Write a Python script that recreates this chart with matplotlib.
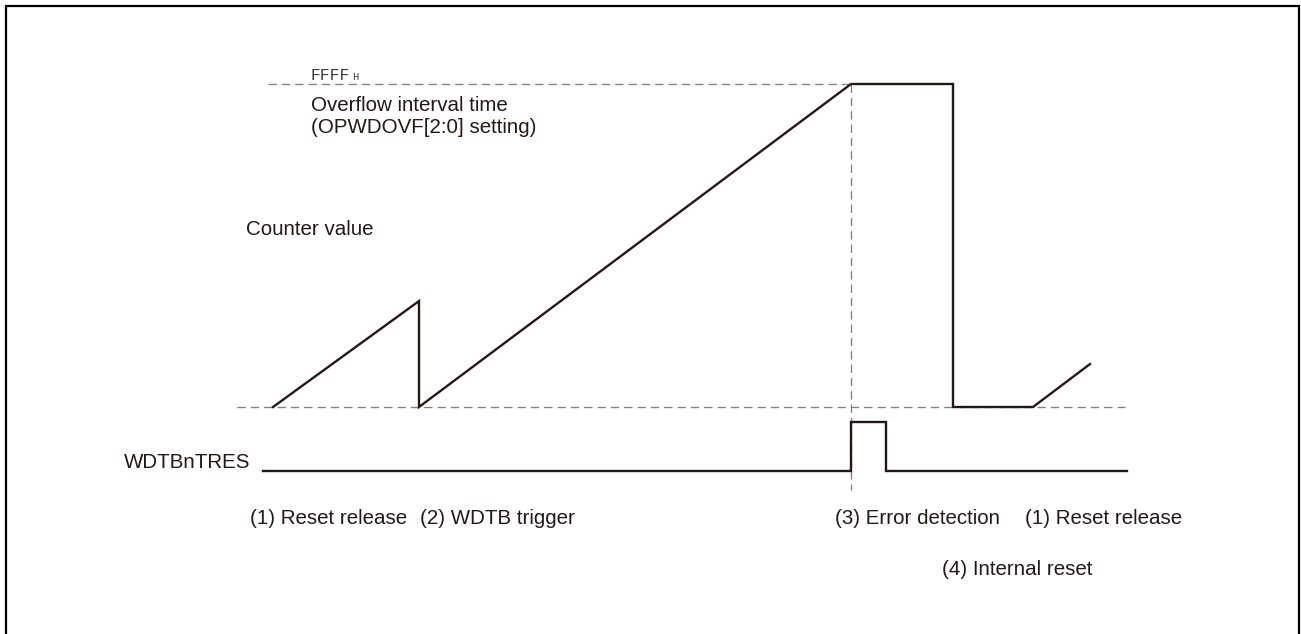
import matplotlib.pyplot as plt

plt.rcParams["lines.scale_dashes"] = False
plt.rcParams["font.family"] = ["Liberation Sans", "DejaVu Sans"]

# canvas in pixel units (x to the right, y downwards)
W, H = 1301, 634

# counter waveform: time position and counter level (0 = zero, 1 = FFFF_H)
counter_t = [273, 419, 419, 851, 953, 953, 1033, 1090]
counter_lvl = [0.0, 0.328, 0.0, 1.0, 1.0, 0.0, 0.0, 0.133]
cnt_zero_y, cnt_full_y = 407, 84

# WDTBnTRES signal: time position and logic level
tres_t = [263, 851, 851, 886, 886, 1127]
tres_lvl = [0, 0, 1, 1, 0, 0]
tres_low_y, tres_high_y = 471, 422

# reference guide lines
full_guide_x = [268, 851]
zero_guide_x = [237, 1125]
detect_x = 851
detect_y = [84, 490]

# event labels: text, x position, baseline y
event_labels = [
    ("(1) Reset release", 250, 524),
    ("(2) WDTB trigger", 420, 524),
    ("(3) Error detection", 835, 524),
    ("(1) Reset release", 1025, 524),
    ("(4) Internal reset", 942, 575),
]

wave_color = "#231815"
guide_color = "#808080"


def level_to_y(levels, low, high):
    return [low - v * (low - high) for v in levels]


fig = plt.figure(figsize=(W / 100, H / 100), dpi=100)
ax = fig.add_axes([0, 0, 1, 1])
ax.set_xlim(0, W)
ax.set_ylim(H, 0)
ax.axis("off")

# outer frame (bottom edge runs off the image)
ax.plot([6, 6, 1298.5, 1298.5], [H + 5, 6, 6, H + 5], color="black", lw=1.6,
        solid_joinstyle="miter")

dash = (0, (6.0, 3.6))
ax.plot(full_guide_x, [cnt_full_y] * 2, color=guide_color, lw=0.95, ls=dash)
ax.plot(zero_guide_x, [cnt_zero_y] * 2, color=guide_color, lw=0.95, ls=dash)
ax.plot([detect_x] * 2, detect_y, color=guide_color, lw=0.95, ls=dash)

ax.plot(counter_t, level_to_y(counter_lvl, cnt_zero_y, cnt_full_y),
        color=wave_color, lw=1.7, solid_joinstyle="miter")
ax.plot(tres_t, level_to_y(tres_lvl, tres_low_y, tres_high_y),
        color=wave_color, lw=1.7, solid_joinstyle="miter")

fs = 14.8
ax.text(311, 80, "FFFF", family="Liberation Mono", fontsize=11.8,
        va="baseline", ha="left", color="#3a3a3a")
ax.text(352, 80, "H", family="Liberation Mono", fontsize=7.5,
        va="baseline", ha="left", color="#3a3a3a")
ax.text(311, 111, "Overflow interval time", fontsize=fs, va="baseline",
        color=wave_color)
ax.text(311, 133, "(OPWDOVF[2:0] setting)", fontsize=fs, va="baseline",
        color=wave_color)
ax.text(246, 235, "Counter value", fontsize=fs, va="baseline",
        color=wave_color)
ax.text(250, 468, "WDTBnTRES", fontsize=fs, va="baseline", ha="right",
        color=wave_color)

for label, x, y in event_labels:
    ax.text(x, y, label, fontsize=fs, va="baseline", ha="left",
            color=wave_color)

fig.savefig("out.png", dpi=100)
